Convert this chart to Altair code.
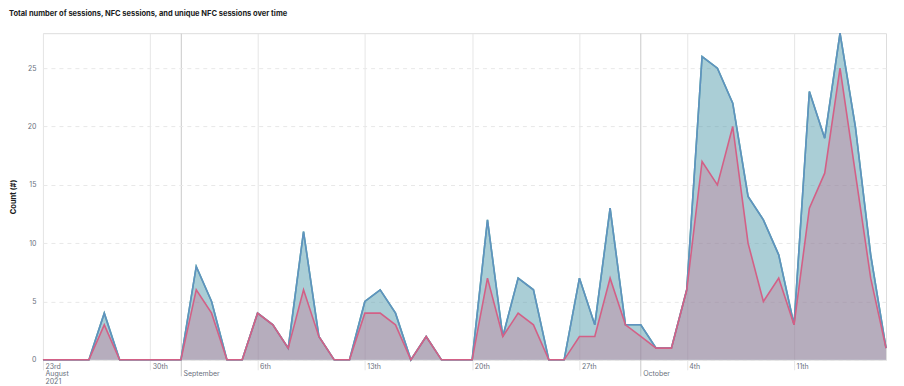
import altair as alt
import pandas as pd

# ---- data ----
dates = pd.date_range("2021-08-23", "2021-10-17", freq="D").strftime("%Y-%m-%d").tolist()

total_sessions = [0, 0, 0, 0, 4, 0, 0, 0, 0, 0,
                  8, 5, 0, 0, 4, 3, 1, 11, 2, 0,
                  0, 5, 6, 4, 0, 2, 0, 0, 0, 12,
                  2, 7, 6, 0, 0, 7, 3, 13, 3, 3,
                  1, 1, 6, 26, 25, 22, 14, 12, 9, 3,
                  23, 19, 28, 20, 9, 1]
nfc_sessions = [0, 0, 0, 0, 4, 0, 0, 0, 0, 0,
                8, 5, 0, 0, 4, 3, 1, 11, 2, 0,
                0, 5, 6, 4, 0, 2, 0, 0, 0, 12,
                2, 7, 6, 0, 0, 7, 3, 13, 3, 3,
                1, 1, 6, 26, 25, 22, 14, 12, 9, 3,
                23, 19, 28, 20, 9, 1]
unique_nfc_sessions = [0, 0, 0, 0, 3, 0, 0, 0, 0, 0,
                       6, 4, 0, 0, 4, 3, 1, 6, 2, 0,
                       0, 4, 4, 3, 0, 2, 0, 0, 0, 7,
                       2, 4, 3, 0, 0, 2, 2, 7, 3, 2,
                       1, 1, 6, 17, 15, 20, 10, 5, 7, 3,
                       13, 16, 25, 16, 7, 1]

week_ticks = ["2021-08-23", "2021-08-30", "2021-09-06", "2021-09-13",
              "2021-09-20", "2021-09-27", "2021-10-04", "2021-10-11"]
week_labels = ["23rd\nAugust\n2021", "30th", "6th", "13th", "20th", "27th", "4th", "11th"]
month_ticks = ["2021-09-01", "2021-10-01"]
month_labels = ["September", "October"]
y_ticks = [0, 5, 10, 15, 20, 25]

series_names = ["Total sessions", "NFC sessions", "Unique NFC sessions"]
series_colors = ["#54B399", "#6092C0", "#D36086"]

df = pd.DataFrame({
    "date": dates,
    "total": total_sessions,
    "nfc": nfc_sessions,
    "unique": unique_nfc_sessions,
})


def ms(d):
    return int(pd.Timestamp(d, tz="UTC").timestamp() * 1000)


def label_expr(ticks, labels):
    expr = "''"
    for t, l in reversed(list(zip(ticks, labels))):
        parts = l.split("\n")
        if len(parts) > 1:
            lit = "[" + ",".join("'" + p + "'" for p in parts) + "]"
        else:
            lit = "'" + l + "'"
        expr = f"(utcFormat(datum.value, '%Y-%m-%d') == '{t}' ? {lit} : {expr})"
    return expr


FONT = "Inter"
LABEL_COLOR = "#69707d"
W, H = 844, 327

x_scale = alt.Scale(type="utc", domain=[ms(dates[0]), ms(dates[-1])], nice=False)
y_scale = alt.Scale(domain=[0, 28], nice=False)

common_axis = dict(
    orient="bottom", title=None, domain=False, grid=True, ticks=True,
    labelAlign="left", labelBaseline="top", labelOffset=2,
    labelFontSize=7, labelColor=LABEL_COLOR, labelFont=FONT,
    labelFlush=False, labelOverlap=False, labelBound=False,
)

week_axis = alt.Axis(
    values=[ms(t) for t in week_ticks],
    labelExpr=label_expr(week_ticks, week_labels),
    gridColor="#e6e6e6", tickColor="#e6e6e6", tickSize=10,
    labelPadding=-7.5, labelLineHeight=7.5,
    **common_axis,
)
month_axis = alt.Axis(
    values=[ms(t) for t in month_ticks],
    labelExpr=label_expr(month_ticks, month_labels),
    gridColor="#c9c9c9", tickColor="#c9c9c9", tickSize=16,
    labelPadding=-6.5,
    **common_axis,
)

y_axis = alt.Axis(
    values=y_ticks, title="Count (#)", grid=True, gridDash=[4, 4], gridColor="#e8e8e8",
    ticks=False, domain=False, labelPadding=7, labelFontSize=7, labelColor=LABEL_COLOR,
    labelFont=FONT, titleFont=FONT, titleFontSize=7.5, titleFontWeight="bold",
    titleColor="#1a1c21", titlePadding=10,
)

base = alt.Chart(df)


def area(field, color, axis):
    return base.mark_area(color=color, fillOpacity=0.3, strokeWidth=0).encode(
        x=alt.X("date:T", scale=x_scale, axis=axis),
        y=alt.Y(f"{field}:Q", scale=y_scale, axis=y_axis),
    )


def line(field, color):
    return base.mark_line(color=color, strokeWidth=1.6).encode(
        x=alt.X("date:T", scale=x_scale, axis=None),
        y=alt.Y(f"{field}:Q", scale=y_scale, axis=y_axis),
    )


chart = alt.layer(
    area("total", series_colors[0], week_axis),
    line("total", series_colors[0]),
    area("nfc", series_colors[1], month_axis),
    line("nfc", series_colors[1]),
    area("unique", series_colors[2], None),
    line("unique", series_colors[2]),
).resolve_axis(
    x="independent"
).properties(
    width=W, height=H,
    title=alt.TitleParams(
        "Total number of sessions, NFC sessions, and unique NFC sessions over time",
        anchor="start", frame="group", dx=-34, offset=13,
        fontSize=7.5, fontWeight="bold", color="#1a1c21", font=FONT,
    ),
    autosize=alt.AutoSizeParams(type="none"),
    padding={"left": 35, "top": 25, "right": 10, "bottom": 25},
).configure_view(stroke=None).configure(background="white")

chart.save("out.html", embed_options={"renderer": "svg", "actions": False})
